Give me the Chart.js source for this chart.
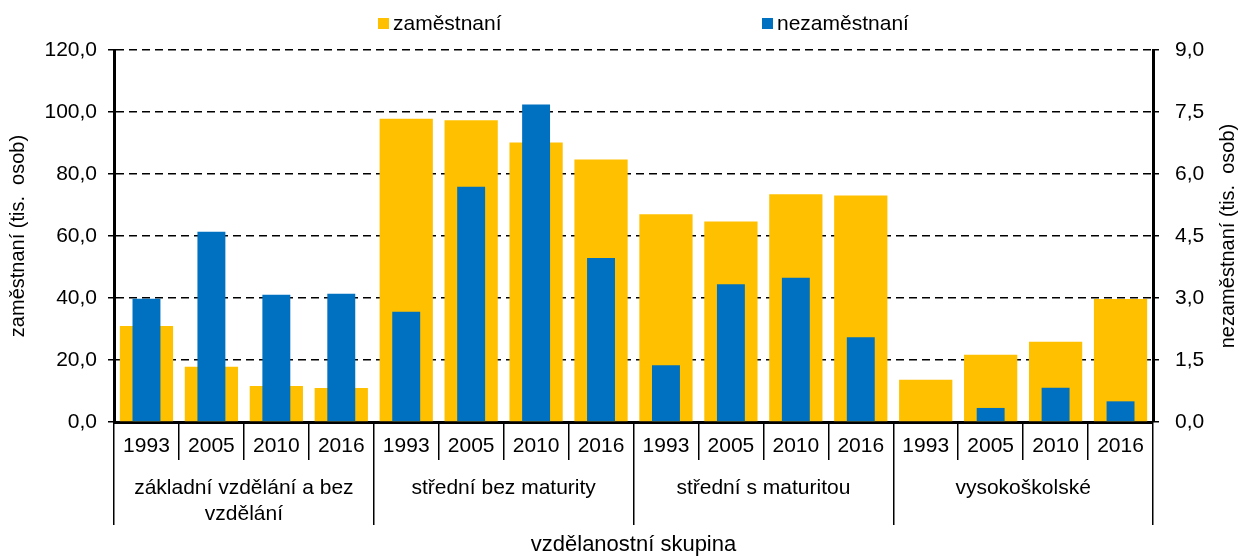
<!DOCTYPE html>
<html>
<head>
<meta charset="utf-8">
<script src="https://cdn.jsdelivr.net/npm/chart.js@4"></script>
<style>
  body { margin: 0; background: #fff; }
  #wrap { position: relative; width: 1243px; height: 558px; }
  #legend { position: absolute; top: 0; left: 0; width: 100%; height: 40px; font-family: "Liberation Sans", Arial, sans-serif; font-size: 21px; color: #000; }
  .item { position: absolute; top: 11px; display: flex; align-items: center; }
  .box { width: 11px; height: 11px; margin-right: 4px; }
</style>
</head>
<body>
<div id="wrap">
  <canvas id="chart"></canvas>
  <div id="legend"></div>
</div>
<script>
const years = ["1993", "2005", "2010", "2016"];
const groups = [
  ["základní vzdělání a bez", "vzdělání"],
  "střední bez maturity",
  "střední s maturitou",
  "vysokoškolské",
];
const categories = groups.flatMap(() => years);

// zaměstnaní (tis. osob) - left axis
const employed = [31.0, 17.8, 11.6, 11.0, 97.8, 97.3, 90.2, 84.7, 67.0, 64.7, 73.5, 73.1, 13.6, 21.7, 25.9, 39.7];
// nezaměstnaní (tis. osob) - right axis
const unemployed = [2.98, 4.6, 3.08, 3.1, 2.67, 5.69, 7.68, 3.97, 1.37, 3.33, 3.49, 2.05, null, 0.34, 0.83, 0.5];

const leftTitle = "zaměstnaní (tis.  osob)";
const rightTitle = "nezaměstnaní (tis.  osob)";
const xTitle = "vzdělanostní skupina";

const fmt = (v) => Number(v).toFixed(1).replace(".", ",");

Chart.defaults.font.family = '"Liberation Sans", Arial, sans-serif';
Chart.defaults.font.size = 20;
Chart.defaults.color = "#000";

// right axis title reads bottom-to-top like the left one
const rightTitlePlugin = {
  id: "rightTitle",
  afterDraw(chart) {
    const { ctx, chartArea } = chart;
    const scale = chart.scales.y1;
    ctx.save();
    ctx.translate(scale.right - 15, (chartArea.top + chartArea.bottom) / 2);
    ctx.rotate(-Math.PI / 2);
    ctx.font = '20px "Liberation Sans", Arial, sans-serif';
    ctx.fillStyle = "#000";
    ctx.textAlign = "center";
    ctx.textBaseline = "middle";
    ctx.fillText(rightTitle, 0, 0);
    ctx.restore();
  },
};

const ctx = document.getElementById("chart");
const myChart = new Chart(ctx, {
  type: "bar",
  data: {
    labels: categories,
    datasets: [
      {
        label: "zaměstnaní",
        data: employed,
        yAxisID: "y",
        backgroundColor: "#FFC000",
        grouped: false,
        order: 2,
        categoryPercentage: 1,
        barPercentage: 0.82,
      },
      {
        label: "nezaměstnaní",
        data: unemployed,
        yAxisID: "y1",
        backgroundColor: "#0070C0",
        grouped: false,
        order: 1,
        categoryPercentage: 1,
        barPercentage: 0.43,
      },
    ],
  },
  options: {
    responsive: true,
    maintainAspectRatio: false,
    animation: false,
    layout: { padding: { top: 50, left: 0, right: 0, bottom: 0 } },
    plugins: {
      legend: { display: false },
      tooltip: { enabled: false },
    },
    scales: {
      x: {
        type: "category",
        position: "bottom",
        offset: true,
        grid: { offset: true, drawOnChartArea: false, color: "#000", lineWidth: 1.5, tickLength: 38 },
        border: { display: true, color: "#000", width: 3 },
        ticks: { autoSkip: false, maxRotation: 0, minRotation: 0, padding: -26, font: { size: 21 } },
        afterFit: (scale) => { scale.height = 38; },
      },
      x2: {
        type: "category",
        position: "bottom",
        labels: groups,
        offset: true,
        grid: { offset: true, drawOnChartArea: false, color: "#000", lineWidth: 1.5, tickLength: 65 },
        border: { display: false },
        ticks: { autoSkip: false, maxRotation: 0, minRotation: 0, padding: -49, font: { size: 21, lineHeight: 1.2 } },
        title: { display: true, text: xTitle, font: { size: 22 }, padding: { top: 0, bottom: 0 } },
        afterFit: (scale) => { scale.height = 98; },
      },
      y: {
        position: "left",
        min: 0,
        max: 120,
        ticks: { stepSize: 20, padding: 11, callback: (v) => fmt(v), font: { size: 21 } },
        grid: { color: "#000", lineWidth: 1.5, tickLength: 6 },
        border: { display: true, color: "#000", width: 3, dash: [8, 5] },
        title: { display: true, text: leftTitle, font: { size: 20 }, padding: { top: 6, bottom: 0 } },
        afterFit: (scale) => { scale.width = 114; },
      },
      y1: {
        position: "right",
        min: 0,
        max: 9,
        ticks: { stepSize: 1.5, padding: 16, callback: (v) => fmt(v), font: { size: 21 } },
        grid: { drawOnChartArea: false, color: "#000", lineWidth: 1.5, tickLength: 6 },
        border: { display: true, color: "#000", width: 3 },
        afterFit: (scale) => { scale.width = 90; },
      },
    },
  },
  plugins: [rightTitlePlugin],
});

// html legend built from the datasets
const legendLeft = [378, 762];
const legend = document.getElementById("legend");
myChart.data.datasets.forEach((ds, i) => {
  const item = document.createElement("div");
  item.className = "item";
  item.style.left = legendLeft[i] + "px";
  const box = document.createElement("span");
  box.className = "box";
  box.style.background = ds.backgroundColor;
  const text = document.createElement("span");
  text.textContent = ds.label;
  item.appendChild(box);
  item.appendChild(text);
  legend.appendChild(item);
});
</script>
</body>
</html>
